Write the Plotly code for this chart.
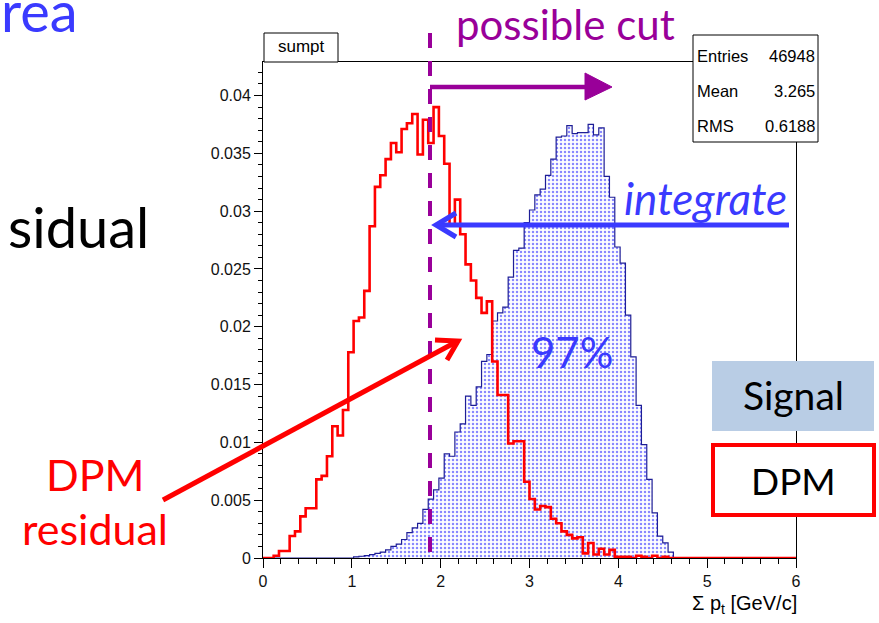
import plotly.graph_objects as go

# ---------------- data ----------------
BIN_LO = 0.0
BIN_W = 0.06
N_BINS = 100

# DPM residual (red outline histogram), 100 bins 0..6
dpm_values = [
    0, 0, 0.0002, 0.0006, 0.0006, 0.0019, 0.0023, 0.0036, 0.0043, 0.0043,
    0.0068, 0.0071, 0.0088, 0.0114, 0.0106, 0.0128, 0.0178, 0.0205, 0.0208, 0.0231,
    0.0287, 0.0321, 0.0331, 0.0345, 0.0359, 0.0351, 0.0371, 0.0376, 0.0384, 0.0349,
    0.0379, 0.0359, 0.0390, 0.0365, 0.0341, 0.0288, 0.0310, 0.0280, 0.0254, 0.0240,
    0.0225, 0.0212, 0.0222, 0.0170, 0.0141, 0.0141, 0.0099, 0.0101, 0.0101, 0.0066,
    0.0051, 0.0042, 0.0045, 0.0044, 0.0034, 0.0030, 0.0023, 0.0020, 0.0017, 0.0018,
    0.0004, 0.0013, 0.0003, 0.0008, 0.0003, 0.0007, 0.0001, 0.0001, 0.0001, 0,
    0.0002, 0.0001, 0, 0.0002, 0, 0.0001, 0, 0, 0, 0,
    0, 0, 0, 0, 0, 0, 0, 0, 0, 0,
    0, 0, 0, 0, 0, 0, 0, 0, 0, 0,
]

# Signal "sumpt" (blue dotted filled histogram), 100 bins 0..6
signal_values = [
    0, 0, 0, 0, 0, 0, 0, 0, 0, 0,
    0, 0, 0, 0, 0, 0, 0, 0.0001, 0.00015, 0.0002,
    0.0003, 0.0004, 0.0005, 0.0007, 0.0010, 0.0012, 0.0016, 0.0022, 0.0026, 0.0030,
    0.0042, 0.0051, 0.0059, 0.0069, 0.0090, 0.0088, 0.0109, 0.0116, 0.0140, 0.0132,
    0.0148, 0.0170, 0.0176, 0.0205, 0.0212, 0.0217, 0.0243, 0.0266, 0.0268, 0.0290,
    0.0301, 0.0314, 0.0319, 0.0331, 0.0345, 0.0364, 0.0365, 0.0374, 0.0367, 0.0368,
    0.0368, 0.0375, 0.0366, 0.0372, 0.0330, 0.0312, 0.0269, 0.0255, 0.0210, 0.0174,
    0.0132, 0.0098, 0.0068, 0.0039, 0.0019, 0.0013, 0.0005, 0, 0, 0,
    0, 0, 0, 0, 0, 0, 0, 0, 0, 0,
    0, 0, 0, 0, 0, 0, 0, 0, 0, 0,
]

x_tick_vals = [0, 1, 2, 3, 4, 5, 6]
x_tick_text = ["0", "1", "2", "3", "4", "5", "6"]
y_tick_vals = [0, 0.005, 0.01, 0.015, 0.02, 0.025, 0.03, 0.035, 0.04]
y_tick_text = ["0", "0.005", "0.01", "0.015", "0.02", "0.025", "0.03", "0.035", "0.04"]

stats_labels = ["Entries", "Mean", "RMS"]
stats_values = ["46948", "3.265", "0.6188"]

hist_title = "sumpt"
x_title = "Σ p<sub>t</sub> [GeV/c]"

# ---------------- geometry helpers ----------------
W, H = 879, 623
PL, PR, PT, PB = 263, 796, 62, 558   # plot area in pixels


def px(x):
    return (x - PL) / (PR - PL)


def py(y):
    return (PB - y) / (PB - PT)


edges = [BIN_LO + i * BIN_W for i in range(N_BINS + 1)]

PURPLE = "#990099"
BLUE = "#3a3aff"
RED = "#ff0000"
ROOT_FONT = "Liberation Sans, Arial, sans-serif"
SLIDE_FONT = "Lato, Open Sans, sans-serif"

fig = go.Figure()

fig.add_trace(go.Scatter(
    x=edges, y=signal_values + [signal_values[-1]],
    mode="lines", line=dict(shape="hv", color="#1e1e96", width=1.2),
    fill="tozeroy", fillcolor="white",
    fillpattern=dict(shape=".", fgcolor="#1414ff", bgcolor="white", size=4, solidity=0.3),
    hoverinfo="skip", showlegend=False,
))
fig.add_trace(go.Scatter(
    x=edges, y=dpm_values + [dpm_values[-1]],
    mode="lines", line=dict(shape="hv", color=RED, width=2.6),
    hoverinfo="skip", showlegend=False,
))

shapes = []
# title box
shapes.append(dict(type="rect", xref="paper", yref="paper", x0=px(264), x1=px(338), y0=py(33), y1=py(62),
                   fillcolor="white", line=dict(color="black", width=1), layer="above"))
# stats box
shapes.append(dict(type="rect", xref="paper", yref="paper", x0=px(693), x1=px(818), y0=py(35), y1=py(142),
                   fillcolor="white", line=dict(color="black", width=1), layer="above"))
# dashed cut line
shapes.append(dict(type="line", xref="paper", yref="paper", x0=px(430), x1=px(430), y0=py(33), y1=py(552),
                   line=dict(color=PURPLE, width=4, dash="15px,13px"), layer="above"))
# purple arrow
shapes.append(dict(type="line", xref="paper", yref="paper", x0=px(430), x1=px(590), y0=py(87), y1=py(87),
                   line=dict(color=PURPLE, width=4.5), layer="above"))
shapes.append(dict(type="path", xref="paper", yref="paper",
                   path=f"M {px(585)},{py(73)} L {px(612)},{py(87)} L {px(585)},{py(100)} Z",
                   fillcolor=PURPLE, line=dict(color=PURPLE, width=1), layer="above"))
# blue integrate arrow
shapes.append(dict(type="line", xref="paper", yref="paper", x0=px(437), x1=px(789), y0=py(225), y1=py(225),
                   line=dict(color=BLUE, width=5), layer="above"))
shapes.append(dict(type="path", xref="paper", yref="paper",
                   path=f"M {px(456)},{py(213)} L {px(436)},{py(225)} L {px(456)},{py(237)}",
                   fillcolor="rgba(0,0,0,0)", line=dict(color=BLUE, width=5), layer="above"))
# red DPM arrow
shapes.append(dict(type="line", xref="paper", yref="paper", x0=px(163), x1=px(456), y0=py(500), y1=py(342),
                   line=dict(color=RED, width=5), layer="above"))
shapes.append(dict(type="path", xref="paper", yref="paper",
                   path=f"M {px(435)},{py(340)} L {px(458)},{py(341)} L {px(447)},{py(360)}",
                   fillcolor="rgba(0,0,0,0)", line=dict(color=RED, width=5), layer="above"))
# legend-like boxes
shapes.append(dict(type="rect", xref="paper", yref="paper", x0=px(712), x1=px(874), y0=py(361), y1=py(431),
                   fillcolor="#b9cde5", line=dict(width=0), layer="above"))
shapes.append(dict(type="rect", xref="paper", yref="paper", x0=px(713), x1=px(874), y0=py(445), y1=py(515),
                   fillcolor="white", line=dict(color=RED, width=4), layer="above"))

ann = []


def text(t, x, y, size, color="black", font=SLIDE_FONT, xanchor="center", italic=False):
    ann.append(dict(text=(f"<i>{t}</i>" if italic else t), x=px(x), y=py(y), xref="paper", yref="paper",
                    xanchor=xanchor, yanchor="middle", showarrow=False,
                    font=dict(family=font, size=size, color=color)))


text(hist_title, 301, 47, 17, font=ROOT_FONT)
for lab, val, yy in zip(stats_labels, stats_values, [56, 91, 126]):
    text(lab, 695, yy, 16.5, font=ROOT_FONT, xanchor="left")
    text(val, 817, yy, 16.5, font=ROOT_FONT, xanchor="right")
text(x_title, 799, 604, 20, font=ROOT_FONT, xanchor="right")

text("rea", 80, 10, 56, color=BLUE, xanchor="right")
text("sidual", 151, 226, 56, color="black", xanchor="right")
text("possible cut", 565, 24, 42, color=PURPLE)
text("integrate", 705, 198, 44, color=BLUE, italic=True)
text("97%", 572, 352, 42, color=BLUE)
text("Signal", 793, 395, 39)
text("DPM", 793, 480, 37)
text("DPM", 95, 474, 43, color=RED)
text("residual", 95, 528, 43, color=RED)

fig.update_layout(
    width=W, height=H,
    margin=dict(l=PL, r=W - PR, t=PT, b=H - PB, pad=0),
    paper_bgcolor="white", plot_bgcolor="white",
    shapes=shapes, annotations=ann, showlegend=False,
    xaxis=dict(range=[0, 6], tickmode="array", tickvals=x_tick_vals, ticktext=x_tick_text,
               ticks="outside", ticklen=9, tickwidth=1, tickcolor="black",
               showline=True, linecolor="black", linewidth=1, mirror=True,
               showgrid=False, zeroline=False,
               tickfont=dict(family=ROOT_FONT, size=16, color="#111"),
               minor=dict(tickmode="linear", tick0=0, dtick=0.2, ticks="outside", ticklen=5,
                          tickcolor="black", showgrid=False)),
    yaxis=dict(range=[0, 0.0429], tickmode="array", tickvals=y_tick_vals, ticktext=y_tick_text,
               ticks="outside", ticklen=8, tickwidth=1, tickcolor="black",
               showline=True, linecolor="black", linewidth=1, mirror=True,
               showgrid=False, zeroline=False,
               tickfont=dict(family=ROOT_FONT, size=16, color="#111"),
               minor=dict(tickmode="linear", tick0=0, dtick=0.001, ticks="outside", ticklen=4,
                          tickcolor="black", showgrid=False)),
)

fig.write_html("out.html")
